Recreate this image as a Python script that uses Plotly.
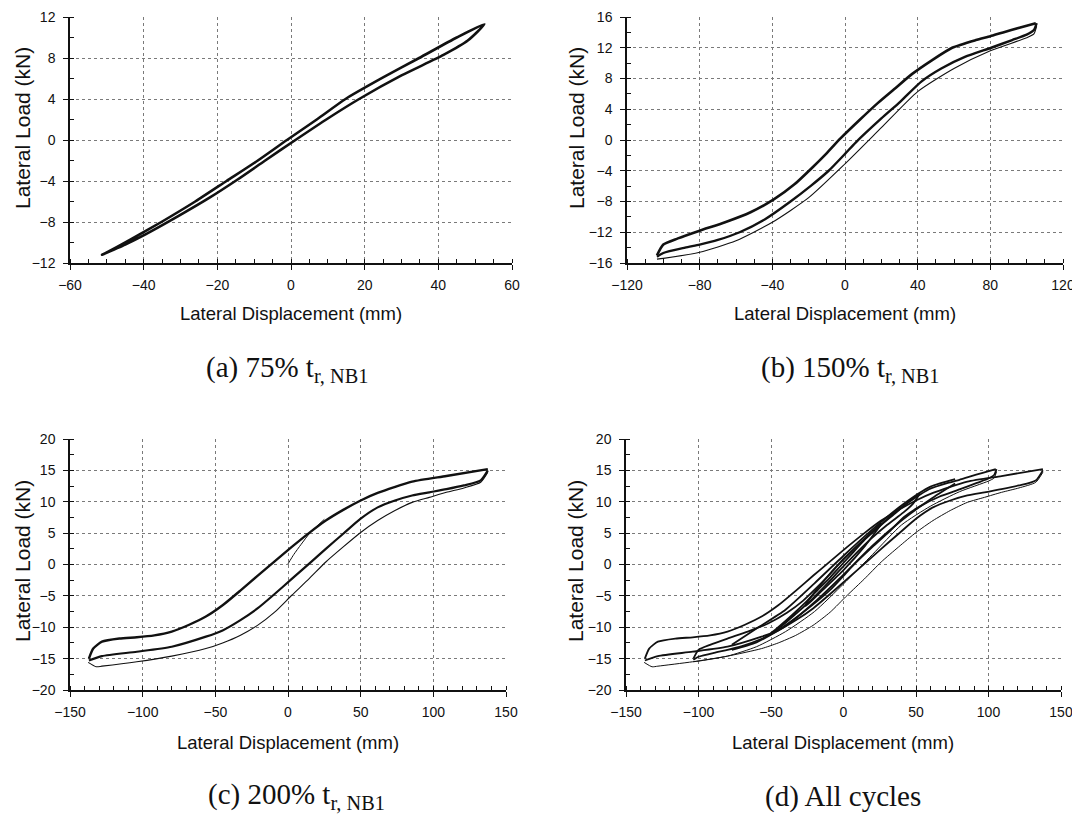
import plotly.graph_objects as go

# ---------------- data ----------------
# (a) 75% t_r,NB1
a_up_x = [52.5, 45, 34.8, 25, 14.8, 7, -1.1, -9, -17.5, -26, -35.2, -44, -51.3]
a_up_y = [11.3, 10.0, 8.0, 6.1, 4.0, 2.0, 0.0, -2.0, -4.0, -6.0, -8.0, -9.8, -11.2]
a_lo_x = [-51.3, -45, -39.5, -30.5, -22, -14.7, -7, 1.2, 10, 18.5, 30, 41.4, 48, 52.5]
a_lo_y = [-11.2, -10.2, -9.2, -7.4, -5.6, -3.9, -2.0, 0.0, 2.1, 4.0, 6.3, 8.3, 9.7, 11.3]

# (b) 150% t_r,NB1
b_up_x = [105, 96, 87, 80, 72, 59, 48, 37, 27, 18, 8, -2.5, -10, -18.5, -28, -39, -52, -66, -80, -92, -100, -103.5]
b_up_y = [15.2, 14.6, 14.0, 13.5, 13.0, 12.0, 10.4, 8.6, 6.6, 4.8, 2.6, 0.2, -1.7, -3.7, -5.8, -7.7, -9.4, -10.7, -11.8, -12.8, -13.6, -15.0]
b_mid_x = [-103.5, -100, -88, -80, -70, -58, -44, -30, -19, -9, 0, 6, 20, 30.5, 42, 53, 66, 80.5, 92, 100, 104, 105.5]
b_mid_y = [-15.2, -14.7, -14.0, -13.6, -13.0, -12.0, -10.3, -8.0, -6.0, -4.0, -1.8, -0.3, 2.8, 5.0, 7.6, 9.3, 10.8, 12.0, 13.0, 13.7, 14.3, 15.2]
b_thin_x = [-103.5, -100, -80, -60, -40, -20, 0, 20, 40, 60, 80, 100, 104, 105.5]
b_thin_y = [-15.5, -15.4, -14.6, -13.1, -10.7, -7.5, -3.1, 1.6, 6.3, 9.3, 11.6, 13.3, 13.8, 14.8]

# (c) 200% t_r,NB1
c_up_x = [137.5, 109, 85.4, 61.7, 50, 38, 26, 14.4, 2.6, -9.2, -21, -33, -45, -56.5, -68, -80, -92, -104, -116, -128, -134, -137]
c_up_y = [15.2, 14.1, 13.2, 11.4, 10.2, 8.7, 7.0, 5.0, 2.8, 0.5, -1.8, -4.2, -6.5, -8.3, -9.6, -10.7, -11.3, -11.6, -11.8, -12.3, -13.4, -15.0]
c_mid_x = [-137, -128, -104, -80, -56.5, -45, -33, -21, -9.2, 2.6, 14.4, 26, 38, 50, 61.7, 73.6, 85.4, 97.2, 109, 121, 132.6, 137.5]
c_mid_y = [-15.3, -14.6, -13.9, -13.1, -11.5, -10.5, -8.9, -7.0, -4.7, -2.3, 0.1, 2.5, 4.9, 7.3, 9.1, 10.2, 11.0, 11.5, 12.0, 12.6, 13.4, 15.0]
c_thin_x = [-137.5, -132, -128, -104, -80, -56.5, -45, -33, -21, -9.2, 2.6, 14.4, 26, 38, 50, 61.7, 73.6, 85.4, 97.2, 109, 121, 132.6, 137.5]
c_thin_y = [-15.6, -16.3, -16.2, -15.5, -14.6, -13.4, -12.5, -11.3, -9.7, -7.6, -4.9, -2.3, 0.4, 2.8, 5.1, 7.0, 8.6, 9.9, 10.7, 11.5, 12.2, 13.1, 14.7]
c_init_x = [0, 4, 9, 15, 25]
c_init_y = [0.1, 1.6, 3.2, 5.0, 7.2]

# (d) extra intermediate cycles
d_m1_up_x = [77, 60, 40, 20, 0, -20, -40, -60, -77]
d_m1_up_y = [13.6, 12.4, 9.4, 5.6, 1.4, -3.0, -7.2, -10.2, -12.8]
d_m1_lo_x = [-77, -60, -40, -20, 0, 20, 40, 60, 77]
d_m1_lo_y = [-13.6, -12.4, -9.8, -6.0, -1.6, 3.0, 7.0, 10.4, 12.9]
d_m2_up_x = [26, 15, 0, -15, -26]
d_m2_up_y = [6.6, 4.2, 0.9, -3.0, -6.4]
d_m2_lo_x = [-26, -15, 0, 15, 26]
d_m2_lo_y = [-6.6, -4.2, -0.9, 3.0, 6.4]

captions = ["(a) 75% t<sub>r, NB1</sub>", "(b) 150% t<sub>r, NB1</sub>",
            "(c) 200% t<sub>r, NB1</sub>", "(d) All cycles"]
x_title = "Lateral Displacement (mm)"
y_title = "Lateral Load (kN)"

a_xticks = [-60, -40, -20, 0, 20, 40, 60]
a_yticks = [-12, -8, -4, 0, 4, 8, 12]
b_xticks = [-120, -80, -40, 0, 40, 80, 120]
b_yticks = [-16, -12, -8, -4, 0, 4, 8, 12, 16]
cd_xticks = [-150, -100, -50, 0, 50, 100, 150]
cd_yticks = [-20, -15, -10, -5, 0, 5, 10, 15, 20]

# ---------------- figure ----------------
# the page body adds an 8 px offset; figure coordinates = page pixels - OFF
OFF = 8
W, H = 1080 - OFF, 827 - OFF
fig = go.Figure()

def fx(px):
    return (px - OFF) / W

def fy(py):
    return 1 - (py - OFF) / H

# panel rectangles in page pixels (left, right, top, bottom)
panels = {
    1: (70, 512, 17, 263),
    2: (627, 1063, 17, 263),
    3: (70, 506, 439, 690),
    4: (626, 1061, 439, 690),
}

def line(x, y, ax, w):
    sfx = "" if ax == 1 else str(ax)
    fig.add_trace(go.Scatter(x=x, y=y, mode="lines", xaxis="x" + sfx, yaxis="y" + sfx,
                             line=dict(color="#111111", width=w, shape="spline", smoothing=0.6),
                             showlegend=False, hoverinfo="skip"))

# (a)
line(a_up_x + a_lo_x, a_up_y + a_lo_y, 1, 2.6)
# (b)
line(b_up_x, b_up_y, 2, 2.6)
line(b_mid_x, b_mid_y, 2, 2.4)
line(b_thin_x, b_thin_y, 2, 1.1)
# (c)
line(c_up_x, c_up_y, 3, 2.4)
line(c_mid_x, c_mid_y, 3, 2.2)
line(c_thin_x, c_thin_y, 3, 1.1)
line(c_init_x, c_init_y, 3, 1.0)
# (d) all cycles
line(a_up_x + a_lo_x, a_up_y + a_lo_y, 4, 1.8)
line(d_m2_up_x + d_m2_lo_x, d_m2_up_y + d_m2_lo_y, 4, 1.8)
line(d_m1_up_x, d_m1_up_y, 4, 1.8)
line(d_m1_lo_x, d_m1_lo_y, 4, 1.8)
line(b_up_x, b_up_y, 4, 1.8)
line(b_mid_x, b_mid_y, 4, 1.8)
line(b_thin_x, b_thin_y, 4, 1.0)
line(c_up_x, c_up_y, 4, 1.8)
line(c_mid_x, c_mid_y, 4, 1.8)
line(c_thin_x, c_thin_y, 4, 1.0)

tickfont = dict(family="Liberation Sans, Arial, sans-serif", size=14, color="#111111")

def axis_common():
    return dict(showline=True, linecolor="#111111", linewidth=1.5,
                showgrid=True, gridcolor="#7a7a7a", griddash="dot", gridwidth=1,
                zeroline=False, ticks="outside", ticklen=5, tickcolor="#111111",
                tickfont=tickfont, fixedrange=True, automargin=False,
                ticklabeloverflow="allow")

specs = {
    1: (a_xticks, a_yticks, 5, 2),
    2: (b_xticks, b_yticks, 10, 2),
    3: (cd_xticks, cd_yticks, 10, 2.5),
    4: (cd_xticks, cd_yticks, 10, 2.5),
}
for k, (l, r, t, b) in panels.items():
    xt, yt, xm, ym = specs[k]
    sfx = "" if k == 1 else str(k)
    xa = axis_common()
    xa.update(domain=[fx(l), fx(r)], range=[xt[0], xt[-1]], tickvals=xt,
              anchor="y" + sfx, ticklabelstandoff=3,
              minor=dict(dtick=xm, tick0=0, ticks="inside", ticklen=4, tickcolor="#111111", showgrid=False))
    ya = axis_common()
    ya.update(domain=[fy(b), fy(t)], range=[yt[0], yt[-1]], tickvals=yt,
              anchor="x" + sfx, ticklabelstandoff=5,
              minor=dict(dtick=ym, tick0=0, ticks="inside", ticklen=4, tickcolor="#111111", showgrid=False))
    fig.layout["xaxis" + sfx] = xa
    fig.layout["yaxis" + sfx] = ya

annots = []
titlefont = dict(family="Liberation Sans, Arial, sans-serif", size=18.5, color="#111111")
ytitlefont = dict(family="Liberation Sans, Arial, sans-serif", size=21, color="#111111")
# axis titles (page pixel positions)
xt_pos = [(291, 313), (845, 313), (288, 742), (843, 742)]
yt_pos = [(22, 128), (576, 128), (22, 561), (575, 561)]
for (px, py) in xt_pos:
    annots.append(dict(text=x_title, x=fx(px), y=fy(py), xref="paper", yref="paper",
                       xanchor="center", yanchor="middle", showarrow=False, font=titlefont))
for (px, py) in yt_pos:
    annots.append(dict(text=y_title, x=fx(px), y=fy(py), xref="paper", yref="paper",
                       xanchor="center", yanchor="middle", showarrow=False, textangle=-90,
                       font=ytitlefont))
cap_pos = [(287, 369), (850, 369), (296, 796), (843, 796)]
capfont = dict(family="Liberation Serif, DejaVu Serif, serif", size=29, color="#111111")
for txt, (px, py) in zip(captions, cap_pos):
    annots.append(dict(text=txt, x=fx(px), y=fy(py), xref="paper", yref="paper",
                       xanchor="center", yanchor="middle", showarrow=False, font=capfont))

fig.update_layout(width=W, height=H, autosize=False,
                  margin=dict(l=0, r=0, t=0, b=0, autoexpand=False),
                  paper_bgcolor="white", plot_bgcolor="white",
                  annotations=annots, showlegend=False)

fig.write_html("out.html")
